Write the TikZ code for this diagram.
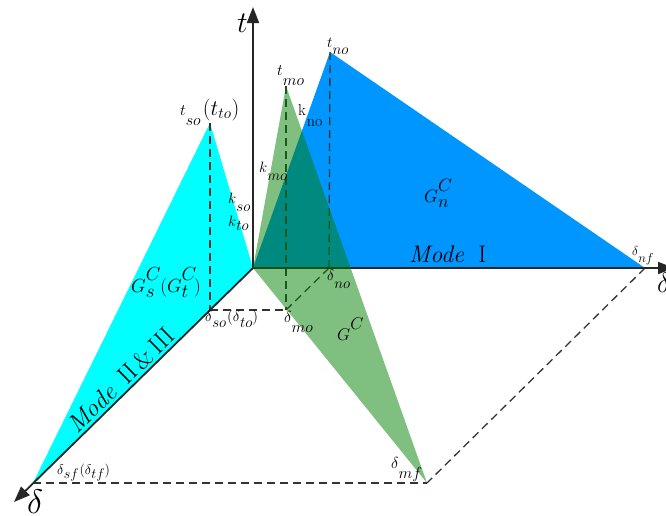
\documentclass[tikz,border=0pt]{standalone}
\usepackage{fix-cm}
\usetikzlibrary{arrows.meta}
\definecolor{cyanF}{RGB}{0,255,255}
\definecolor{blueF}{RGB}{0,150,255}
\definecolor{greenF}{RGB}{0,128,0}
\newcommand\lw[2][0.55em]{\raisebox{-#1}{$#2$}}
\newcommand\fs[1]{\fontsize{#1}{#1}\selectfont}
\newcommand\SupSub[3]{\rlap{\raisebox{0.6em}{$#1$}}\raisebox{-0.3em}{$#2$}\hspace{#3}}
\begin{document}
\begin{tikzpicture}[x=1pt,y=-1pt,
  axis/.style={line width=1.8pt, black!85, -{Triangle[length=16pt,width=12pt]}},
  guide/.style={dash pattern=on 8pt off 5pt, line width=1.3pt, black!80},
  lbl/.style={inner sep=0pt, anchor=base west},
]
\useasboundingbox (0,0) rectangle (666,515);
% key points
\coordinate (O) at (253,268);
\coordinate (tS) at (210,123);
\coordinate (dSf) at (33,483);
\coordinate (tM) at (286,86);
\coordinate (dMf) at (427,483);
\coordinate (tN) at (330,52);
\coordinate (dNf) at (645,268);
\coordinate (dSo) at (210,310);
\coordinate (dMo) at (286,310);
\coordinate (dNo) at (329,268);
\coordinate (tEnd) at (253,7);
\coordinate (dEnd) at (674,268);
\coordinate (zEnd) at (14,502);
% fills
\fill[cyanF] (O) -- (tS) -- (dSf) -- cycle;
\fill[blueF] (O) -- (tN) -- (dNf) -- cycle;
% guides
\draw[guide] (tS) -- (dSo);
\draw[guide] (dSo) -- (dMo);
\draw[guide] (tM) -- (dMo);
\draw[guide] (dMo) -- (dNo);
\draw[guide] (tN) -- (dNo);
\draw[guide] (dNf) -- (dMf);
\draw[guide] (dSf) -- (dMf);
% axes
\draw[axis] (O) -- (tEnd);
\draw[axis] (O) -- (dEnd);
\draw[axis] (O) -- (zEnd);
% green
\fill[greenF, fill opacity=0.5] (O) -- (tM) -- (dMf) -- cycle;
% labels
\node[lbl, font=\fs{30}] (lt) at (237,32) {$t$};
\node[lbl, font=\fs{15}] (ltno) at (327,47) {$t$\lw[0.5em]{no}};
\node[lbl, font=\fs{16}] (ltmo) at (277,75) {$t$\lw[0.65em]{mo}};
\node[lbl, font=\fs{16}] (ltso) at (180,115) {$t$\lw[0.65em]{so}\hspace{2pt}{\fs{22}$(t_{to})$}};
\node[lbl, font=\fs{15}] (lkmo) at (259,172) {$k$\lw[0.55em]{mo}};
\node[lbl, font=\fs{16}] (lkno) at (298,115) {k\hspace{1pt}\raisebox{-0.7em}{no}};
\node[lbl, font=\fs{15}] (lkso) at (228,203) {$k$\lw[0.55em]{so}};
\node[lbl, font=\fs{15}] (lkto) at (228,226) {$k$\lw[0.3em]{to}};
\node[lbl, font=\fs{18}] (lGn) at (424,202) {$G$\SupSub{C}{n}{0.15em}};
\node[lbl, font=\fs{24}] (lmode1) at (409,262) {\textit{Mode}\hspace{0.6em}I};
\node[lbl, font=\fs{13}] (ldnf) at (632,255) {$\delta$\lw[0.6em]{nf}};
\node[lbl, font=\fs{28}] (ldr) at (657,292) {$\delta$};
\node[lbl, font=\fs{19}] (lGs) at (131,292) {$G$\SupSub{C}{s}{0.3em}$($$G$\SupSub{C}{t}{0.3em}$)$};
\node[lbl, font=\fs{15}] (ldso) at (205,321) {$\delta$\lw[0.45em]{so}\hspace{1pt}$($$\delta$\lw[0.45em]{to}$)$};
\node[lbl, font=\fs{16}] (ldmo) at (284,322) {$\delta$\lw[0.65em]{mo}};
\node[lbl, font=\fs{15}] (ldno) at (327,280) {$\delta$\lw[0.55em]{no}};
\node[lbl, font=\fs{17}] (lGc) at (337,340) {$G$\raisebox{0.6em}{$C$}};
\node[lbl, font=\fs{25}, anchor=base, rotate=44.3] (lmode23) at (127,386) {\textit{Mode}\hspace{0.5em}II\,\&\,III};
\node[lbl, font=\fs{14}] (ldsf) at (57,474) {$\delta$\lw[0.3em]{sf}\hspace{1pt}$($$\delta$\lw[0.3em]{tf}$)$};
\node[lbl, font=\fs{16}] (ldmf) at (391,468) {$\delta$\lw[0.65em]{mf}};
\node[lbl, font=\fs{34}] (ldz) at (27,513) {$\delta$};
\end{tikzpicture}
\end{document}
